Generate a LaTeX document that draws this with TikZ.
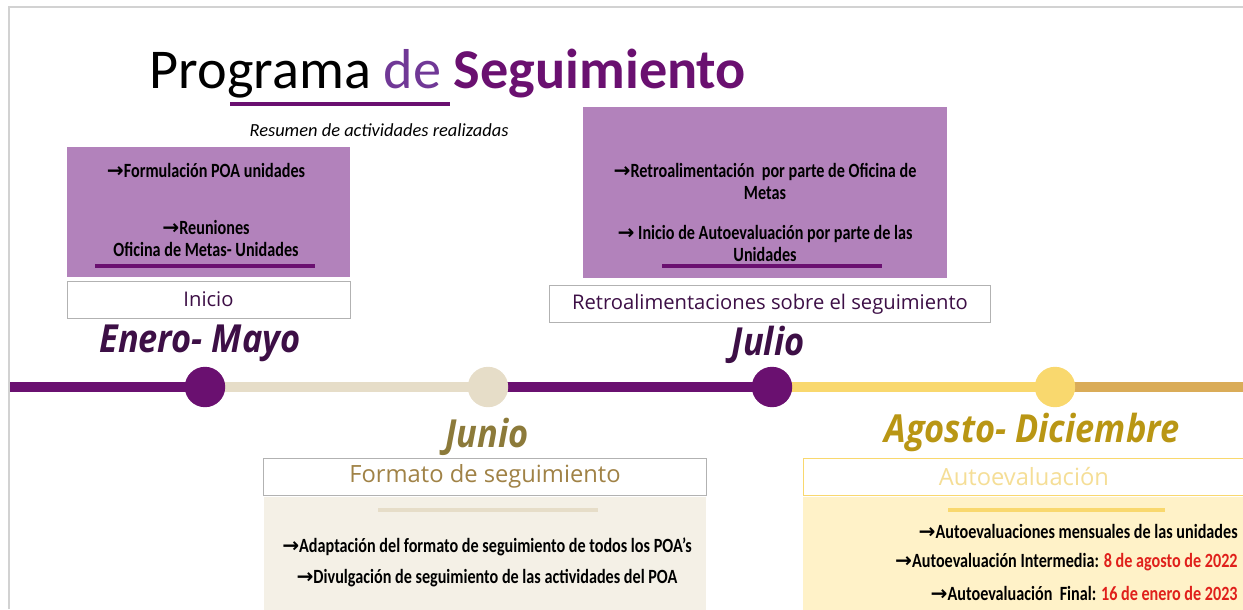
\documentclass[tikz,border=0pt]{standalone}
\usepackage{fontspec}
\setmainfont{Carlito}
\newfontfamily\condfont[FakeStretch=0.8]{Carlito}
\newfontfamily\segfont{Open Sans}
\newfontfamily\monthfont[FakeStretch=0.89]{Open Sans}
\newfontfamily\arrfont{DejaVu Sans}
\newcommand\PSarr{{\arrfont\bfseries →}}
\usetikzlibrary{positioning}
\definecolor{PSpurple}{RGB}{106,16,112}
\definecolor{PSlilac}{RGB}{178,130,187}
\definecolor{PSviolet}{RGB}{112,56,150}
\definecolor{PSplum}{RGB}{61,15,70}
\definecolor{PSbeige}{RGB}{230,221,200}
\definecolor{PSbeigebg}{RGB}{244,240,230}
\definecolor{PSolive}{RGB}{140,122,58}
\definecolor{PSbrown}{RGB}{160,130,70}
\definecolor{PSyellow}{RGB}{249,216,110}
\definecolor{PSgold}{RGB}{218,172,88}
\definecolor{PSgoldtxt}{RGB}{185,150,20}
\definecolor{PSpale}{RGB}{245,222,150}
\definecolor{PScream}{RGB}{255,242,200}
\definecolor{PSred}{RGB}{224,32,27}

\begin{document}
\begin{tikzpicture}[x=0.02cm, y=-0.02cm,
    actbox/.style={rectangle, inner sep=0pt, minimum width=#1},
    actbox/.default=161pt,
    tagbox/.style={rectangle, draw=gray!60, fill=white, inner sep=0pt, minimum height=21pt},
    acttext/.style={inner sep=0pt, align=center, font=\condfont\bfseries\fontsize{11.5}{12.5}\selectfont},
    month/.style={inner sep=0pt, font=\monthfont\bfseries\itshape\fontsize{22}{26}\selectfont},
    seg/.style={line width=5.7pt},
    dot/.style={circle, inner sep=0pt, minimum size=23pt},
    bar/.style={line width=2.3pt}]
  \useasboundingbox (0,0) rectangle (1243,609);
  \draw[gray!35, line width=1.2pt] (9,609) -- (9,7) -- (1243,7);

  % title
  \node[anchor=base, inner sep=0pt] (title) at (448,88)
    {\fontsize{32}{38}\selectfont Programa \textcolor{PSviolet}{de} \textcolor{PSpurple}{\bfseries Seguimiento}};
  \draw[PSpurple, bar] (230,104) -- (450,104);
  \node[inner sep=0pt, font=\itshape\fontsize{10.5}{12}\selectfont] (sub) at (379,130) {Resumen de actividades realizadas};

  % Enero - Mayo
  \node[actbox, fill=PSlilac, minimum height=74pt] (boxene) at (208.5,212) {};
  \node[acttext] (ene1) at (206,170) {\PSarr Formulación POA unidades};
  \node[acttext] (ene2) at (206,238) {\PSarr Reuniones\\Oficina de Metas- Unidades};
  \draw[PSpurple, bar] (95,266) -- (315,266);
  \node[tagbox, minimum width=161pt] (inicio) at (208.5,299.5) {\segfont\fontsize{11.5}{13}\selectfont\color{PSplum}Inicio};
  \node[month, text=PSplum] (lblene) at (200,343) {Enero- Mayo};

  % Julio
  \node[actbox=207pt, fill=PSlilac, minimum height=97pt] (boxjul) at (765,192.5) {};
  \node[acttext] (jul1) at (765,181) {\PSarr Retroalimentación\ \ por parte de Oficina de\\Metas};
  \node[acttext] (jul2) at (765,243) {\PSarr\ Inicio de Autoevaluación por parte de las\\Unidades};
  \draw[PSpurple, bar] (662,266) -- (882,266);
  \node[tagbox, minimum width=251pt] (retro) at (770,304) {\segfont\fontsize{11.5}{13}\selectfont\color{PSplum}Retroalimentaciones sobre el seguimiento};
  \node[month, text=PSplum] (lbljul) at (768,345) {Julio};

  % timeline
  \coordinate (tstart) at (10,387);
  \coordinate (tene) at (205,387);
  \coordinate (tjun) at (488,387);
  \coordinate (tjul) at (772,387);
  \coordinate (tago) at (1055,387);
  \coordinate (tend) at (1243,387);
  \draw[seg, PSpurple] (tstart) -- (tene);
  \draw[seg, PSbeige] (tene) -- (tjun);
  \draw[seg, PSpurple] (tjun) -- (tjul);
  \draw[seg, PSyellow] (tjul) -- (tago);
  \draw[seg, PSgold] (tago) -- (tend);
  \node[dot, fill=PSpurple] (dotene) at (tene) {};
  \node[dot, fill=PSbeige] (dotjun) at (tjun) {};
  \node[dot, fill=PSpurple] (dotjul) at (tjul) {};
  \node[dot, fill=PSyellow] (dotago) at (tago) {};

  % Junio
  \node[month, text=PSolive] (lbljun) at (487,437) {Junio};
  \node[tagbox, minimum width=252pt] (formato) at (485,476.5) {\segfont\fontsize{13.5}{15}\selectfont\color{PSbrown}Formato de seguimiento};
  \node[actbox=252pt, fill=PSbeigebg, minimum height=64pt, below=1pt of formato] (boxjun) {};
  \draw[PSbeige, bar] (378,510) -- (598,510);
  \node[acttext] (jun1) at (487,547) {\PSarr Adaptación del formato de seguimiento de todos los POA’s};
  \node[acttext] (jun2) at (487,578) {\PSarr Divulgación de seguimiento de las actividades del POA};

  % Agosto - Diciembre
  \node[month, text=PSgoldtxt] (lblago) at (1032,432) {Agosto- Diciembre};
  \node[tagbox, draw=PSyellow, minimum width=251pt, anchor=west] (autoev) at (803,476.5) {\segfont\fontsize{13.5}{15}\selectfont\color{PSpale}Autoevaluación};
  \node[actbox=250pt, fill=PScream, minimum height=64pt, anchor=north west] (boxago) at (803,497) {};
  \draw[PSyellow, bar] (948,510) -- (1165,510);
  \node[acttext, anchor=east] (ago1) at (1238,531) {\PSarr Autoevaluaciones mensuales de las unidades};
  \node[acttext, anchor=east] (ago2) at (1238,562) {\PSarr Autoevaluación Intermedia: \textcolor{PSred}{8 de agosto de 2022}};
  \node[acttext, anchor=east] (ago3) at (1238,593) {\PSarr Autoevaluación\ \ Final: \textcolor{PSred}{16 de enero de 2023}};
\end{tikzpicture}
\end{document}
